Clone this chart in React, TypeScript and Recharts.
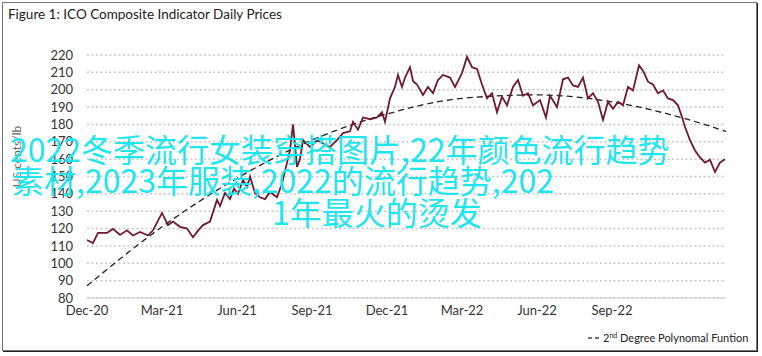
import { CartesianGrid, Line, LineChart, XAxis, YAxis } from 'recharts';

// time in months since the start of Dec-20
const months = [
    0, 0.24, 0.44, 0.8, 1.04, 1.32, 1.6, 1.84, 2.12, 2.44, 2.64, 3.0, 3.24, 3.44, 3.72, 4.0,
    4.24, 4.44, 4.64, 4.92, 5.2, 5.32, 5.52, 5.72, 5.88, 6.04, 6.24, 6.4, 6.52, 6.72, 6.92,
    7.12, 7.32, 7.6, 7.8, 8.0, 8.12, 8.24, 8.4, 8.52, 8.64, 8.92, 9.2, 9.44, 9.72, 10.0,
    10.24, 10.52, 10.64, 10.84, 11.04, 11.32, 11.6, 11.8, 11.92, 12.12, 12.32, 12.44, 12.6,
    12.72, 12.92, 13.04, 13.2, 13.44, 13.64, 13.84, 14.04, 14.24, 14.52, 14.72, 15.0, 15.2,
    15.4, 15.6, 15.8, 16.0, 16.2, 16.4, 16.6, 16.8, 17.04, 17.24, 17.44, 17.64, 17.84, 18.12,
    18.36, 18.52, 18.8, 19.04, 19.24, 19.44, 19.64, 19.84, 20.04, 20.24, 20.44, 20.64, 20.84,
    21.04, 21.24, 21.44, 21.64, 21.84, 22.08, 22.24, 22.44, 22.64, 22.84, 23.04, 23.24, 23.44,
    23.64, 23.8, 23.92, 24.12, 24.32, 24.52, 24.72, 24.92, 25.12, 25.32, 25.52,
];

const prices = [
    113.4, 111.7, 117.5, 117.5, 119.8, 116.3, 119, 116, 118, 116, 119, 129, 122, 124, 121, 120,
    115, 118.8, 122, 124, 136.5, 133, 140.5, 137, 143, 140, 148, 144, 150, 140.5, 138,
    137, 141, 138, 146, 158, 165, 180, 155.5, 160, 171, 167, 171, 169, 167, 171,
    175, 176, 181.5, 177, 184, 183, 184, 187, 181.5, 195, 201.6, 208.5, 201.6,
    207, 213, 205, 203, 197, 201.6, 198, 205.6, 208.5, 207, 201.6, 209.6, 219,
    213, 212, 203, 195, 198, 187, 196, 191, 201.6, 205.6, 196.5, 198, 191, 194,
    184, 196.5, 190, 206, 207, 202.5, 201.6, 207, 195, 198, 193, 182.6, 193,
    189, 193, 191, 201.6, 199.6, 214, 211, 204.6, 203, 198, 199.6, 195, 194,
    191, 184.3, 178.5, 171, 165, 161, 158, 159.6, 152.6, 158, 160,
];

const trendMonths = [0, 3, 6, 9, 12, 15, 18, 21, 24, 25.56];
const trendValues = [87, 121, 149, 171, 186, 195, 197, 193, 183, 176];

const tickMonths = [0, 3, 6, 9, 12, 15, 18, 21];
const tickLabels = ['Dec-20', 'Mar-21', 'Jun-21', 'Sep-21', 'Dec-21', 'Mar-22', 'Jun-22', 'Sep-22'];
const yTicks = [80, 90, 100, 110, 120, 130, 140, 150, 160, 170, 180, 190, 200, 210, 220];

const watermark = [
    '2022冬季流行女装穿搭图片,22年颜色流行趋势',
    '素材,2023年服装,2022的流行趋势,202',
    '1年最火的烫发',
];

const priceData = months.map((m, i) => ({ m, price: prices[i] }));
const trendData = trendMonths.map((m, i) => ({ m, trend: trendValues[i] }));

const font = 'Lato, "Open Sans", sans-serif';

const App = () => {
    return (
        <div style={{ position: 'fixed', left: 0, top: 0, width: 762, height: 356, background: '#fff', fontFamily: font }}>
            <div
                style={{
                    position: 'absolute',
                    left: 2,
                    top: 2,
                    width: 753,
                    height: 347,
                    border: '1px solid #777',
                    boxShadow: '1px 1px 0 #222',
                }}
            />
            <div style={{ position: 'absolute', left: 8, top: 6, fontSize: 13.5, color: '#222' }}>
                Figure 1: ICO Composite Indicator Daily Prices
            </div>
            <LineChart
                width={762}
                height={356}
                margin={{ top: 55, right: 36, bottom: 0, left: 27 }}
                style={{ position: 'absolute', left: 0, top: 0 }}
            >
                <CartesianGrid vertical={false} stroke="#c8c8c8" strokeDasharray="2 2.5" strokeWidth={1.5} />
                <XAxis
                    type="number"
                    dataKey="m"
                    domain={[0, 25.56]}
                    ticks={tickMonths}
                    interval={0}
                    tickFormatter={(v: number) => tickLabels[tickMonths.indexOf(v)] ?? ''}
                    height={58}
                    stroke="#cfcfcf"
                    tickLine={false}
                    tick={{ fill: '#333', fontSize: 13, fontFamily: font }}
                />
                <YAxis
                    type="number"
                    domain={[80, 220]}
                    ticks={yTicks}
                    interval={0}
                    width={60}
                    axisLine={false}
                    tickLine={false}
                    tickMargin={8}
                    tick={{ fill: '#333', fontSize: 13, fontFamily: font }}
                    label={{
                        value: 'US cents/lb',
                        angle: -90,
                        position: 'insideLeft',
                        offset: 0,
                        dx: -10,
                        dy: -20,
                        style: { fill: '#666', fontSize: 12, fontFamily: font, textAnchor: 'middle' },
                    }}
                />
                <Line
                    data={trendData}
                    dataKey="trend"
                    type="monotone"
                    stroke="#222"
                    strokeWidth={1.3}
                    strokeDasharray="6 4"
                    dot={false}
                    isAnimationActive={false}
                />
                <Line
                    data={priceData}
                    dataKey="price"
                    type="linear"
                    stroke="#6e1a30"
                    strokeWidth={1.8}
                    dot={false}
                    isAnimationActive={false}
                />
            </LineChart>
            <svg width={762} height={356} style={{ position: 'absolute', left: 0, top: 0, pointerEvents: 'none' }}>
                <line x1={588} y1={338} x2={592} y2={338} stroke="#222" strokeWidth={1.3} />
                <line x1={595} y1={338} x2={599} y2={338} stroke="#222" strokeWidth={1.3} />
                <text x={603} y={342} fontSize={11} fill="#222" fontFamily={font}>
                    2<tspan fontSize={7} dy={-4}>nd</tspan>
                    <tspan dy={4}> Degree Polynomal Funtion</tspan>
                </text>
                <g fill="#1ee6ec" fontSize={32} fontFamily='"Noto Sans CJK SC", sans-serif'>
                    <text x={10} y={162}>{watermark[0]}</text>
                    <text x={12} y={193}>{watermark[1]}</text>
                    <text x={272} y={225}>{watermark[2]}</text>
                </g>
            </svg>
        </div>
    );
};

export default App;
